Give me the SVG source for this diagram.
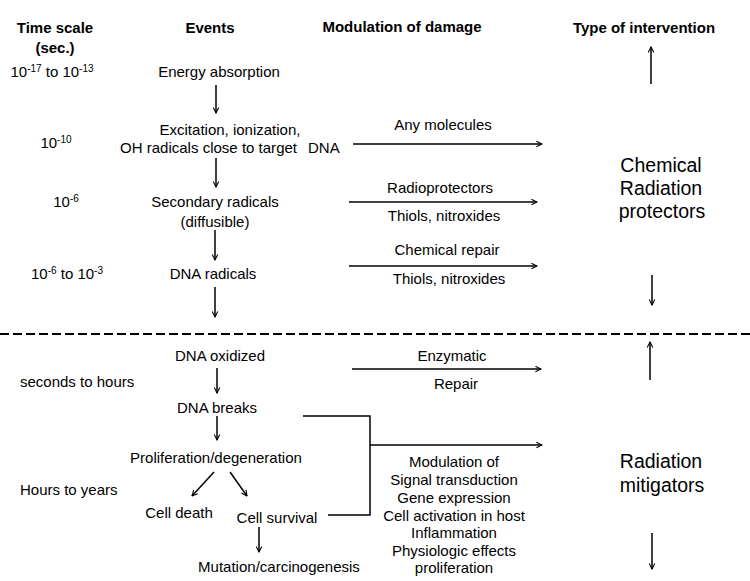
<svg xmlns="http://www.w3.org/2000/svg" width="750" height="581" viewBox="0 0 750 581">
<style>
text{font-family:"Liberation Sans",Arial,sans-serif;font-size:15px;fill:#000}
.h{font-weight:bold}
.c{text-anchor:middle}
.big{font-size:19.5px}
.sup{font-size:10px}
.ln{stroke:#000;stroke-width:1.5;fill:none}
.ar{stroke:#000;stroke-width:1.5;fill:none;marker-end:url(#ah)}
</style>
<defs>
<marker id="ah" viewBox="0 0 10 10" refX="9" refY="5" markerWidth="7" markerHeight="7" markerUnits="userSpaceOnUse" orient="auto">
<path d="M1,1 L9,5 L1,9" fill="none" stroke="#000" stroke-width="1.5"/>
</marker>
</defs>
<rect width="750" height="581" fill="#fff"/>
<g id="headers">
<text class="h c" x="55" y="33">Time scale</text>
<text class="h c" x="55" y="53">(sec.)</text>
<text class="h c" x="210" y="33">Events</text>
<text class="h c" x="402" y="32">Modulation of damage</text>
<text class="h c" x="644" y="33">Type of intervention</text>
</g>
<g id="timescale">
<text class="c" x="52" y="77">10<tspan class="sup" dy="-5">-17</tspan><tspan dy="5"> to 10</tspan><tspan class="sup" dy="-5">-13</tspan></text>
<text class="c" x="56" y="148">10<tspan class="sup" dy="-5">-10</tspan></text>
<text class="c" x="66" y="207">10<tspan class="sup" dy="-5">-6</tspan></text>
<text class="c" x="67" y="279">10<tspan class="sup" dy="-5">-6</tspan><tspan dy="5"> to 10</tspan><tspan class="sup" dy="-5">-3</tspan></text>
<text x="20" y="387">seconds to hours</text>
<text x="20" y="495">Hours to years</text>
</g>
<g id="n-energy"><text class="c" x="219" y="77">Energy absorption</text></g>
<g id="n-excitation">
<text class="c" x="230" y="135">Excitation, ionization,</text>
<text x="120" y="153" textLength="177">OH radicals close to target</text>
<text x="308" y="153">DNA</text>
</g>
<g id="n-secondary">
<text class="c" x="215" y="207">Secondary radicals</text>
<text class="c" x="215" y="227">(diffusible)</text>
</g>
<g id="n-dnarad"><text class="c" x="213" y="279">DNA radicals</text></g>
<g id="n-dnaox"><text class="c" x="220" y="361">DNA oxidized</text></g>
<g id="n-dnabreaks"><text class="c" x="217" y="413">DNA breaks</text></g>
<g id="n-prolif"><text class="c" x="216" y="463">Proliferation/degeneration</text></g>
<g id="n-death"><text class="c" x="179" y="518">Cell death</text></g>
<g id="n-survival"><text class="c" x="277" y="523">Cell survival</text></g>
<g id="n-mutation"><text class="c" x="279" y="572">Mutation/carcinogenesis</text></g>
<g id="mod-labels">
<text class="c" x="443" y="130">Any molecules</text>
<text class="c" x="440" y="193">Radioprotectors</text>
<text class="c" x="444" y="221">Thiols, nitroxides</text>
<text class="c" x="447" y="255">Chemical repair</text>
<text class="c" x="449" y="284">Thiols, nitroxides</text>
<text class="c" x="452" y="361">Enzymatic</text>
<text class="c" x="456" y="389">Repair</text>
<text class="c" x="454" y="467">Modulation of</text>
<text class="c" x="454" y="485">Signal transduction</text>
<text class="c" x="454" y="503">Gene expression</text>
<text class="c" x="454" y="521">Cell activation in host</text>
<text class="c" x="454" y="538">Inflammation</text>
<text class="c" x="454" y="556">Physiologic effects</text>
<text class="c" x="454" y="573">proliferation</text>
</g>
<g id="n-protectors">
<text class="big c" x="661" y="172">Chemical</text>
<text class="big c" x="661" y="195">Radiation</text>
<text class="big c" x="662" y="218">protectors</text>
</g>
<g id="n-mitigators">
<text class="big c" x="661" y="468">Radiation</text>
<text class="big c" x="662" y="492">mitigators</text>
</g>
<g id="connectors">
<line class="ar" x1="216" y1="85" x2="216" y2="113"/>
<line class="ar" x1="216" y1="158" x2="216" y2="187"/>
<line class="ar" x1="215" y1="230" x2="215" y2="260"/>
<line class="ar" x1="215" y1="287" x2="215" y2="317"/>
<line class="ar" x1="217" y1="368" x2="217" y2="393"/>
<line class="ar" x1="217" y1="416" x2="217" y2="440"/>
<line class="ar" x1="214" y1="472" x2="192" y2="496"/>
<line class="ar" x1="230" y1="472" x2="247" y2="496"/>
<line class="ar" x1="259" y1="527" x2="259" y2="552"/>
<line class="ar" x1="353" y1="144" x2="542" y2="144"/>
<line class="ar" x1="349" y1="202" x2="537" y2="202"/>
<line class="ar" x1="349" y1="266" x2="537" y2="266"/>
<line class="ar" x1="352" y1="369" x2="541" y2="369"/>
<polyline class="ln" points="303,416 370,416 370,515 328,515"/>
<line class="ar" x1="370" y1="445" x2="542" y2="445"/>
<line class="ar" x1="651" y1="84" x2="651" y2="47"/>
<line class="ar" x1="652" y1="275" x2="652" y2="305"/>
<line class="ar" x1="650" y1="380" x2="650" y2="342"/>
<line class="ar" x1="652" y1="533" x2="652" y2="569"/>
<line x1="0" y1="334" x2="750" y2="334" stroke="#000" stroke-width="2" stroke-dasharray="9,4"/>
</g>
</svg>
